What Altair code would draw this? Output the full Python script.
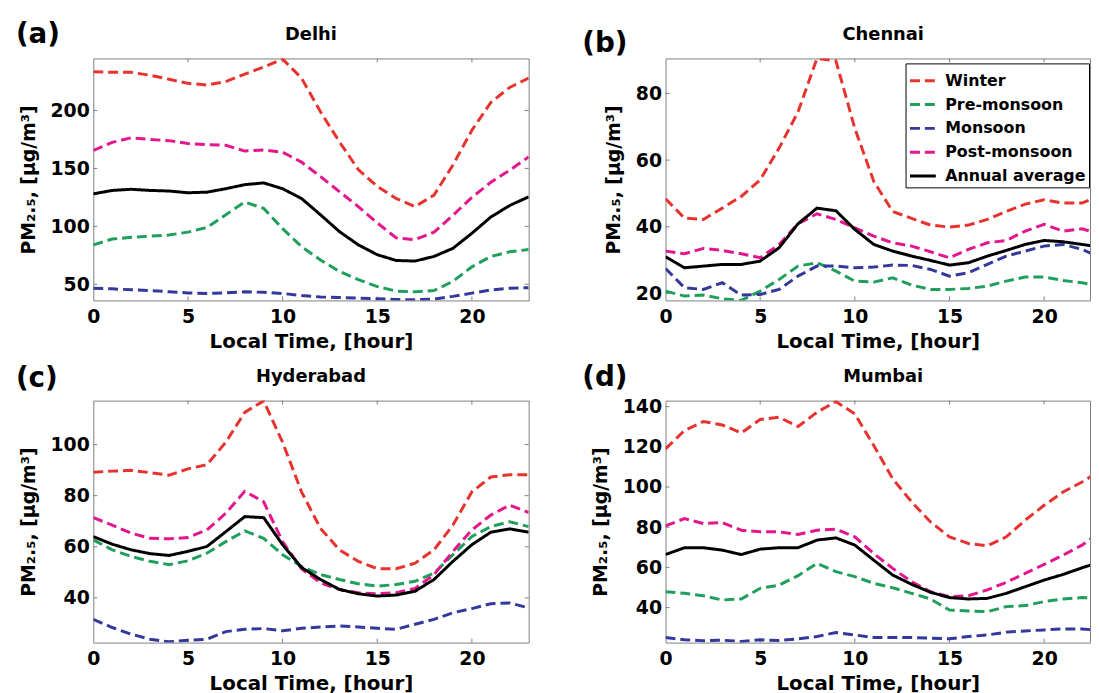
import altair as alt
import pandas as pd

FONT = "DejaVu Sans"

hours = list(range(24))
seasons = ["Winter", "Pre-monsoon", "Monsoon", "Post-monsoon", "Annual average"]
colors = ["#E8322E", "#1F9F5B", "#33389A", "#E4168D", "#000000"]
dashes = [[10, 5], [10, 5], [10, 5], [10, 5], [1, 0]]
x_ticks = [0, 5, 10, 15, 20]

# ---- Delhi ----
delhi_winter = [233.5, 233, 233, 230.5, 227, 223.5, 222, 225, 231.5, 237.5, 244.5, 228, 199, 173, 149, 134.5, 124, 117, 127, 153, 183, 207, 220, 228]
delhi_pre = [84, 89, 90.5, 91.5, 92.5, 95, 99, 110, 121, 115.5, 98, 82.5, 71, 61, 54, 48, 44, 43.5, 44.5, 52.5, 65, 74, 78, 80]
delhi_monsoon = [46.5, 46, 45.2, 44.5, 43.5, 42.5, 42, 42.5, 43.5, 43, 42, 40.3, 39, 38.5, 38, 37.5, 36.8, 36.6, 37.2, 39.5, 42.3, 45, 46.5, 47]
delhi_post = [165.5, 172.5, 176.5, 175, 174, 171.5, 170.5, 170, 165, 166, 164, 155.5, 143, 130, 117, 103, 90, 88.5, 95, 109.5, 125, 138, 148.5, 160]
delhi_annual = [128, 131, 132, 131, 130.5, 129, 129.5, 132.5, 136, 137.5, 132.5, 124, 110, 95.5, 84, 75.5, 70.5, 70, 74, 81, 94, 108, 118, 125.5]

# ---- Chennai ----
chennai_winter = [48.4, 42.6, 42.2, 45.6, 49.1, 54.1, 63.6, 74.5, 90.5, 89.8, 69.5, 53.6, 44.6, 42.5, 40.5, 39.9, 40.5, 42.2, 44.6, 46.8, 48.1, 47.1, 47.1, 49.5]
chennai_pre = [20.7, 19.2, 19.5, 18.4, 17.9, 20.7, 24.2, 28.2, 29.2, 26.7, 23.7, 23.4, 24.7, 22.5, 21.2, 21.2, 21.5, 22.2, 23.7, 24.9, 24.9, 23.9, 23.2, 22.2]
chennai_monsoon = [27.5, 21.7, 21.2, 23.2, 19.5, 19.7, 21.2, 25.2, 28.2, 28.2, 27.7, 27.9, 28.5, 28.4, 27.2, 25.2, 26.2, 28.7, 31.2, 32.7, 34.2, 34.7, 33.2, 30.7]
chennai_post = [32.7, 31.9, 33.5, 32.9, 31.9, 30.7, 34.7, 40.9, 43.9, 42.2, 39.7, 37.2, 35.2, 34.2, 32.5, 30.7, 33.2, 35.2, 35.9, 38.7, 40.7, 38.7, 39.4, 37.7]
chennai_annual = [31.0, 27.7, 28.2, 28.7, 28.7, 29.7, 33.7, 40.9, 45.6, 44.8, 39.2, 34.7, 32.7, 31.2, 29.9, 28.5, 29.2, 31.2, 32.9, 34.7, 35.9, 35.5, 34.7, 33.9]

# ---- Hyderabad ----
hyd_winter = [89.2, 89.6, 89.9, 89, 88, 90.5, 92.1, 100.9, 112.6, 117.1, 100.9, 81.5, 67.2, 58.8, 54.3, 51.4, 51.4, 53.6, 58.8, 68.5, 81.5, 87.3, 88.2, 88.2]
hyd_pre = [62.7, 58.8, 56.2, 54.3, 53, 54.5, 57.5, 62, 66.2, 63.3, 56.9, 52.3, 49.1, 47.2, 45.5, 44.6, 45.2, 46.5, 49.7, 56.9, 64, 67.9, 69.8, 67.9]
hyd_monsoon = [31.6, 28.4, 25.8, 23.8, 22.8, 23.4, 23.8, 26.8, 27.7, 28, 27.1, 28.1, 28.6, 29, 28.6, 28.1, 27.7, 29.7, 31.6, 34.2, 35.8, 37.7, 38, 36.1]
hyd_post = [71.4, 68.5, 65.3, 63.3, 63.1, 63.6, 66.6, 73.1, 81.7, 77.6, 62, 51.4, 45.9, 43.3, 42, 41.6, 42, 43.7, 49.1, 58.2, 66.6, 72.4, 76.3, 73.4]
hyd_annual = [64, 61, 58.8, 57.3, 56.6, 58.2, 60.1, 65.9, 71.8, 71.4, 60.8, 51.9, 47.2, 43.3, 41.6, 40.7, 41.1, 42.6, 47.2, 54.3, 60.8, 65.7, 67, 65.7]

# ---- Mumbai ----
mum_winter = [119, 128.1, 132.6, 130.9, 126.9, 133.6, 134.7, 130.1, 137.2, 142.5, 136.4, 120.7, 104.1, 92.6, 82.6, 75.2, 71.9, 70.7, 75.2, 83.5, 90.9, 97.5, 102.5, 108.3]
mum_pre = [47.9, 47.1, 45.9, 43.8, 44.3, 49.6, 51.2, 55.9, 62, 57.9, 55.4, 52.1, 49.9, 47.1, 44.3, 38.8, 38.3, 38, 40.5, 41, 43, 44.3, 45, 44.6]
mum_monsoon = [25.1, 24, 23.5, 23.8, 23.1, 24, 23.6, 24.5, 25.6, 27.6, 26.4, 25.1, 25.1, 25.1, 24.8, 24.5, 25.6, 26.4, 27.8, 28.4, 28.9, 29.4, 29.4, 28.6]
mum_post = [80.7, 84.3, 81.8, 82.3, 78.5, 77.7, 77.7, 76.4, 78.5, 79, 75.2, 66.9, 59.5, 52.9, 47.9, 45.5, 45.9, 48.8, 52.6, 57, 61.5, 66.1, 71.1, 77.7]
mum_annual = [66.4, 69.8, 69.8, 68.6, 66.4, 69.1, 69.8, 69.8, 73.6, 74.7, 71.1, 63.6, 56.2, 51.6, 47.6, 45, 44.3, 44.6, 47.1, 50.4, 53.7, 56.5, 59.8, 62.8]

cities = {
    "Delhi": [delhi_winter, delhi_pre, delhi_monsoon, delhi_post, delhi_annual],
    "Chennai": [chennai_winter, chennai_pre, chennai_monsoon, chennai_post, chennai_annual],
    "Hyderabad": [hyd_winter, hyd_pre, hyd_monsoon, hyd_post, hyd_annual],
    "Mumbai": [mum_winter, mum_pre, mum_monsoon, mum_post, mum_annual],
}
y_domains = {"Delhi": [36, 245], "Chennai": [17.9, 90.5], "Hyderabad": [22.5, 117.2], "Mumbai": [22.6, 143]}
y_ticks = {"Delhi": [50, 100, 150, 200], "Chennai": [20, 40, 60, 80],
           "Hyderabad": [40, 60, 80, 100], "Mumbai": [40, 60, 80, 100, 120, 140]}
panel_labels = {"Delhi": "(a)", "Chennai": "(b)", "Hyderabad": "(c)", "Mumbai": "(d)"}

W_FULL = 439   # full plot width (0..23 h)
H = 244
PX_PER_H = W_FULL / 23.0
TICK = 4
TICK_COLOR = "#808080"


def long_df(city):
    rows = []
    for s, vals in zip(seasons, cities[city]):
        for h, v in zip(hours, vals):
            rows.append({"hour": h, "season": s, "pm": v})
    return pd.DataFrame(rows)


def panel(city, width, label_dx, label_dy, legend, right_ticks):
    xmax = width / PX_PER_H
    leg = None
    if legend:
        leg = alt.Legend(title=None, orient="none", legendX=242, legendY=5, symbolType="stroke",
                         symbolSize=676, symbolStrokeWidth=3, labelFont=FONT, labelFontSize=16,
                         labelFontWeight="bold", labelColor="black", strokeColor="black",
                         fillColor="white", padding=3, rowPadding=1, labelOffset=8,
                         labelLimit=300)
    lines = alt.Chart(long_df(city)).mark_line(strokeWidth=3, clip=True, strokeCap="butt").encode(
        x=alt.X("hour:Q", scale=alt.Scale(domain=[0, xmax], nice=False, zero=False),
                axis=alt.Axis(values=x_ticks, title="Local Time, [hour]", labelPadding=7,
                              titlePadding=5, labelFlush=False, labelOverlap=False)),
        y=alt.Y("pm:Q", scale=alt.Scale(domain=y_domains[city], nice=False, zero=False),
                axis=alt.Axis(values=y_ticks[city], title="PM₂.₅, [µg/m³]", labelPadding=4,
                              titlePadding=12, titleFontSize=19, labelOverlap=False)),
        color=alt.Color("season:N", sort=seasons,
                        scale=alt.Scale(domain=seasons, range=colors), legend=leg),
        strokeDash=alt.StrokeDash("season:N", sort=seasons,
                                  scale=alt.Scale(domain=seasons, range=dashes), legend=leg),
    )
    # inward tick marks (MATLAB style), placed through the panel's own scales
    xt = pd.DataFrame({"hour": x_ticks[1:]})
    yt = pd.DataFrame({"pm": y_ticks[city]})
    rule = dict(color=TICK_COLOR, strokeWidth=1)
    layers = [
        alt.Chart(xt).mark_rule(**rule).encode(x="hour:Q", y=alt.value(H), y2=alt.value(H - TICK)),
        alt.Chart(xt).mark_rule(**rule).encode(x="hour:Q", y=alt.value(0), y2=alt.value(TICK)),
        alt.Chart(yt).mark_rule(**rule).encode(y="pm:Q", x=alt.value(0), x2=alt.value(TICK)),
    ]
    if right_ticks:
        layers.append(alt.Chart(yt).mark_rule(**rule).encode(
            y="pm:Q", x=alt.value(width), x2=alt.value(width - TICK)))
    title = alt.Chart(pd.DataFrame({"t": [city]})).mark_text(
        font=FONT, fontSize=18, fontWeight="bold", color="black", baseline="middle", align="center"
    ).encode(text="t:N", x=alt.value(W_FULL / 2), y=alt.value(-24))
    lab = alt.Chart(pd.DataFrame({"t": [panel_labels[city]]})).mark_text(
        font=FONT, fontSize=28, fontWeight="bold", color="black", baseline="middle", align="left"
    ).encode(text="t:N", x=alt.value(label_dx), y=alt.value(label_dy))
    return alt.layer(*layers, lines, title, lab).properties(width=width, height=H)


W_RIGHT = 428
pa = panel("Delhi", W_FULL, -78, -24, False, True)
pb = panel("Chennai", W_RIGHT, -84, -14, True, False)
pc = panel("Hyderabad", W_FULL, -78, -22, False, True)
pd_ = panel("Mumbai", W_RIGHT, -84, -23, False, False)

chart = alt.concat(pa, pb, pc, pd_, columns=2, spacing={"row": 101, "column": 138},
                   bounds="flush").resolve_scale(
    x="independent", y="independent", color="independent", strokeDash="independent"
).properties(
    padding={"left": 7, "top": 9, "right": 0, "bottom": 0}
).configure_view(
    stroke="#808080", strokeWidth=1
).configure_axis(
    labelFont=FONT, labelFontSize=19, labelFontWeight="bold", labelColor="black",
    titleFont=FONT, titleFontSize=20, titleFontWeight="bold", titleColor="black",
    domain=False, ticks=False, grid=False
)

chart.save("out.html", embed_options={"renderer": "svg", "actions": False})
